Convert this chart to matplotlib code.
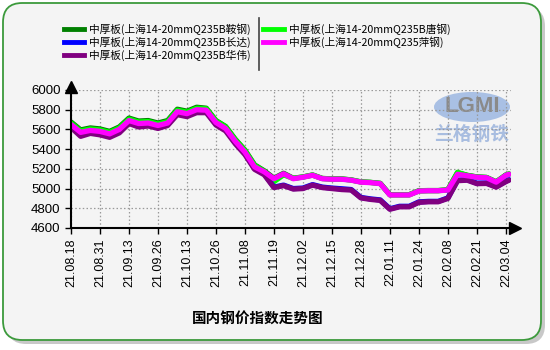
import numpy as np
import matplotlib.pyplot as plt
from matplotlib.patches import FancyBboxPatch, Ellipse
from matplotlib.lines import Line2D

plt.rcParams['font.family'] = ['Liberation Sans', 'Noto Sans CJK SC', 'DejaVu Sans']

# trading-day index (every 3rd day sampled)
idx = [0, 3, 6, 9, 12, 15, 18, 21, 24, 27, 30, 33, 36, 39, 42, 45, 48, 51, 54, 57,
       60, 63, 66, 69, 72, 75, 78, 81, 84, 87, 90, 93, 96, 99, 102, 105, 108, 111,
       114, 117, 120, 123, 126, 129, 132, 135, 136]

angang = [5675, 5595, 5615, 5605, 5580, 5625, 5715, 5685, 5690, 5665, 5690, 5805,
          5785, 5825, 5815, 5690, 5630, 5500, 5390, 5240, 5180, 5105, 5155, 5105,
          5118, 5138, 5103, 5098, 5098, 5088, 5068, 5063, 5053, 4938, 4938, 4938,
          4978, 4980, 4980, 4988, 5160, 5135, 5118, 5113, 5068, 5138, 5148]
tanggang = [5665, 5585, 5605, 5595, 5570, 5615, 5705, 5675, 5680, 5655, 5680, 5795,
            5775, 5815, 5810, 5685, 5625, 5495, 5385, 5235, 5175, 5070, 5140, 5103,
            5117, 5137, 5102, 5097, 5097, 5087, 5067, 5062, 5052, 4937, 4937, 4937,
            4977, 4979, 4979, 4987, 5165, 5133, 5117, 5112, 5067, 5137, 5147]
changda = [5635, 5545, 5575, 5560, 5535, 5580, 5675, 5640, 5650, 5625, 5650, 5765,
           5745, 5785, 5780, 5655, 5595, 5465, 5355, 5205, 5150, 5015, 5035, 5000,
           5005, 5040, 5015, 5005, 4998, 4990, 4910, 4895, 4885, 4795, 4820, 4820,
           4865, 4870, 4870, 4905, 5085, 5090, 5055, 5057, 5020, 5075, 5090]
huawei = [5620, 5530, 5560, 5545, 5520, 5565, 5660, 5625, 5635, 5610, 5640, 5750,
          5730, 5770, 5770, 5645, 5585, 5455, 5345, 5195, 5140, 5010, 5030, 4995,
          5000, 5035, 5010, 5000, 4990, 4985, 4905, 4890, 4880, 4790, 4815, 4815,
          4860, 4866, 4866, 4900, 5080, 5085, 5050, 5052, 5015, 5070, 5085]
pinggang = [5650, 5570, 5590, 5580, 5555, 5600, 5690, 5660, 5665, 5640, 5665, 5780,
            5760, 5800, 5795, 5670, 5610, 5480, 5370, 5220, 5170, 5100, 5150, 5100,
            5115, 5135, 5100, 5095, 5095, 5085, 5065, 5060, 5050, 4935, 4935, 4935,
            4975, 4978, 4978, 4985, 5145, 5130, 5115, 5110, 5065, 5135, 5145]

tick_pos = list(range(0, 136, 9))
tick_labels = ['21.08.18', '21.08.31', '21.09.13', '21.09.26', '21.10.13', '21.10.26',
               '21.11.08', '21.11.19', '21.12.02', '21.12.15', '21.12.28', '22.01.11',
               '22.01.24', '22.02.08', '22.02.21', '22.03.04']

W, H = 550, 350
fig = plt.figure(figsize=(5.5, 3.5), dpi=100, facecolor='white')


def px(x, y):
    return x / W, 1 - y / H


# rounded panel with shadow
shadow = FancyBboxPatch(px(7, 344), 538 / W, 337 / H, boxstyle='round,pad=0,rounding_size=0.035',
                        transform=fig.transFigure, facecolor='#c8c8c8', edgecolor='none',
                        mutation_aspect=W / H, zorder=-3)
panel = FancyBboxPatch(px(3, 340), 538 / W, 337 / H, boxstyle='round,pad=0,rounding_size=0.035',
                       transform=fig.transFigure, facecolor='#f4f4f4', edgecolor='#3c9a3c',
                       linewidth=1.3, mutation_aspect=W / H, zorder=-2)
fig.patches.extend([shadow, panel])

# watermark
ex, ey = px(472, 107)
fig.add_artist(Ellipse((ex, ey), 76 / W, 30 / H, transform=fig.transFigure,
                       facecolor='#a9c0e4', edgecolor='none', zorder=-1))
fig.text(ex, ey, 'LGMI', ha='center', va='center', fontsize=16, color='#8a8a8a',
         fontweight='bold', zorder=-1)
fig.text(*px(472, 134), '兰格钢铁', ha='center', va='center', fontsize=13.5,
         color='#a8bde0', family=['Noto Sans CJK SC'], fontweight='bold', zorder=-1)

l, t = px(71, 90)
r, b = px(511, 228)
ax = fig.add_axes([l, b, r - l, t - b], zorder=2)
ax.patch.set_visible(False)

series = [
    ('中厚板(上海14-20mmQ235B鞍钢)', angang, '#008000'),
    ('中厚板(上海14-20mmQ235B唐钢)', tanggang, '#00ff00'),
    ('中厚板(上海14-20mmQ235B长达)', changda, '#0000ff'),
    ('中厚板(上海14-20mmQ235B华伟)', huawei, '#800080'),
    ('中厚板(上海14-20mmQ235萍钢)', pinggang, '#ff00ff'),
]
lines = {}
for name, vals, c in series:
    lines[name] = ax.plot(idx, vals, color=c, lw=3.8, solid_joinstyle='round',
                          solid_capstyle='round', label=name)[0]

ax.set_xlim(0, 136.6)
ax.set_ylim(4600, 6000)
ax.set_yticks(range(4600, 6001, 200))
ax.set_xticks(tick_pos)
ax.set_xticklabels(tick_labels, rotation=90, fontsize=9)
ax.tick_params(axis='y', labelsize=9.5, length=4, width=1)
ax.tick_params(axis='x', length=4, width=1)
ax.grid(True, color='#999999', linestyle=(0, (1.2, 1.8)), linewidth=0.9)
for s in ['top', 'right']:
    ax.spines[s].set_visible(False)
for s in ['left', 'bottom']:
    ax.spines[s].set_linewidth(1.5)

# axis arrows
ax.plot(0, 1.02, marker='^', color='black', ms=8, transform=ax.transAxes, clip_on=False)
ax.plot(1.01, 0, marker='>', color='black', ms=8, transform=ax.transAxes, clip_on=False)

# legend
order = ['中厚板(上海14-20mmQ235B鞍钢)', '中厚板(上海14-20mmQ235B长达)', '中厚板(上海14-20mmQ235B华伟)',
         '中厚板(上海14-20mmQ235B唐钢)', '中厚板(上海14-20mmQ235萍钢)']
handles = [Line2D([], [], color=lines[n].get_color(), lw=3.5) for n in order]
fig.legend(handles, order, ncol=2, loc='upper left', bbox_to_anchor=(0.098, 0.961),
           frameon=False, prop={'family': ['Noto Sans CJK SC'], 'size': 7.7},
           handlelength=1.95, handletextpad=0.47, columnspacing=1.1, labelspacing=0.15)
fig.add_artist(Line2D([259 / W, 259 / W], [1 - 18 / H, 1 - 70 / H], color='#444444', lw=1.2,
                      transform=fig.transFigure))

fig.text(*px(258, 318), '国内钢价指数走势图', ha='center', va='center', fontsize=10.5,
         fontweight='bold', family=['Noto Sans CJK SC'])

fig.savefig('out.png', dpi=100, facecolor='white')
